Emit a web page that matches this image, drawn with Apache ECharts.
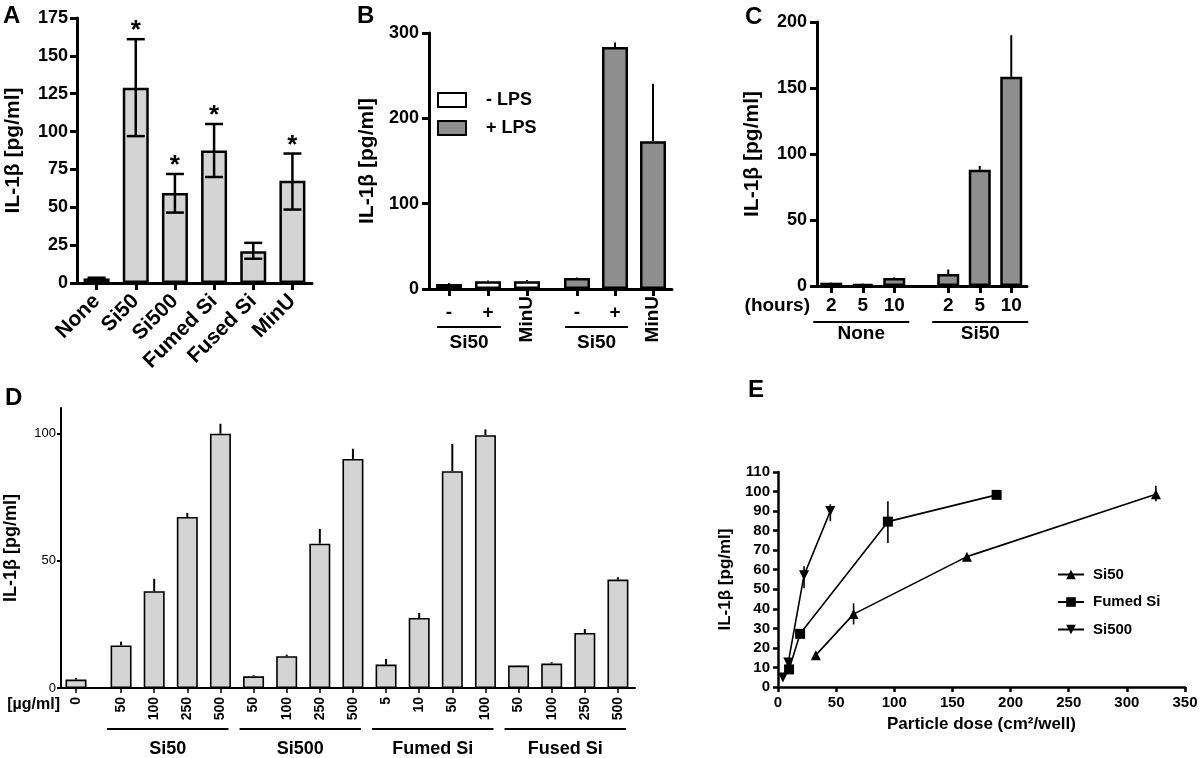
<!DOCTYPE html>
<html><head><meta charset="utf-8">
<script src="https://cdn.jsdelivr.net/npm/echarts@6/dist/echarts.min.js"></script>
<style>html,body{margin:0;padding:0;background:#fff}#c{width:1200px;height:758px}</style>
</head><body><div id="c"></div>
<script>
// ---------- DATA ----------
// Panel A
const catsA = ['None', 'Si50', 'Si500', 'Fumed Si', 'Fused Si', 'MinU'];
const valsA = [3, 129, 59.5, 87.5, 21, 67.5];
const errHiA = [3.5, 161, 72, 105, 26.5, 85.5];
const errLoA = [2.5, 97, 46.5, 70, 16, 48.5];
const starA = [0, 1, 1, 1, 0, 1];
// Panel B
const catsB = ['-', '+', 'MinU'];
const groupB = ['Si50', 'Si50'];
const legendB = ['- LPS', '+ LPS'];
const valsBminus = [6, 9, 9];
const errBminus = [7, 10, 10.5];
const valsBplus = [13, 283.5, 173];
const errBplus = [13.5, 289, 240.5];
// Panel C
const catsC = ['2', '5', '10'];
const groupC = ['None', 'Si50'];
const valsCnone = [2.5, 1.5, 6];
const errCnone = [2.8, 1.8, 6.5];
const valsCsi = [9, 88, 158.5];
const errCsi = [12.5, 91, 190];
// Panel D
const catsD0 = ['0'];
const valsD0 = [3.3];
const errD0 = [3.9];
const catsD = ['50', '100', '250', '500', '50', '100', '250', '500', '5', '10', '50', '100', '50', '100', '250', '500'];
const groupD = ['Si50', 'Si500', 'Fumed Si', 'Fused Si'];
const valsD = [16.7, 38, 67.2, 99.9, 4.6, 12.5, 56.7, 90, 9.2, 27.5, 85.2, 99.3, 8.8, 9.6, 21.6, 42.6];
const errD = [18.2, 42.9, 68.8, 103.8, 5, 13.1, 62.5, 94, 11.4, 29.5, 95.9, 101.6, 8.9, 10.1, 23.2, 43.5];
const ticksD = [0, 50, 100];
// Panel E
const namesE = ['Si50', 'Fumed Si', 'Si500'];
const doseE_Si50 = [32.5, 65, 162.5, 325];
const valE_Si50 = [16.3, 37.3, 66.7, 98.6];
const hiE_Si50 = [16.3, 42.8, 68, 103];
const loE_Si50 = [16.3, 32, 65.4, 95];
const doseE_Fumed = [9.5, 19, 94.5, 188];
const valE_Fumed = [9, 27.2, 84.6, 98.3];
const hiE_Fumed = [11, 28.8, 95, 99.5];
const loE_Fumed = [7.5, 26, 73.7, 97.2];
const doseE_Si500 = [4.2, 8.8, 22.4, 45];
const valE_Si500 = [4.8, 12.5, 57.2, 90];
const hiE_Si500 = [5.2, 14.5, 61.8, 93.5];
const loE_Si500 = [4.4, 10.5, 50.5, 84.8];

// ---------- BUILD ----------
const FONT = "'Liberation Sans', Arial, Helvetica, sans-serif";
const LIGHT = '#d4d4d4', DARK = '#8e8e8e';
const T = (size, weight) => ({ color: '#000', fontFamily: FONT, fontSize: size, fontWeight: weight || 'bold' });

const grid = [], xAxis = [], yAxis = [], series = [];
const addGrid = g => (grid.push(Object.assign({ containLabel: false, outerBoundsMode: 'none' }, g)), grid.length - 1);
const addX = a => (xAxis.push(a), xAxis.length - 1);
const addY = a => (yAxis.push(a), yAxis.length - 1);

function lineOnlyX(gi, w) {
  return addX({ type: 'value', gridIndex: gi, position: 'bottom', min: 0, max: 1,
    axisLine: { show: true, onZero: false, lineStyle: { color: '#000', width: w } },
    axisTick: { show: false }, axisLabel: { show: false }, splitLine: { show: false } });
}
function hiddenY(gi, min, max) {
  return addY({ type: 'value', gridIndex: gi, position: 'left', min, max, show: false, splitLine: { show: false } });
}
function visY(gi, min, max, interval, c) {
  const a = { type: 'value', gridIndex: gi, position: 'left', min, max, interval,
    axisLine: { show: true, onZero: false, lineStyle: { color: '#000', width: c.w } },
    axisTick: { show: true, length: c.tl, lineStyle: { color: '#000', width: c.w } },
    axisLabel: Object.assign({ margin: c.m, hideOverlap: false }, T(c.fs, c.fw)),
    splitLine: { show: false },
    name: c.name, nameLocation: 'middle', nameGap: c.ng, nameTextStyle: T(c.nfs, c.nfw) };
  if (c.custom) { a.axisTick.customValues = c.custom; a.axisLabel.customValues = c.custom; }
  return addY(a);
}
function catX(gi, data, c) {
  const a = { type: 'category', gridIndex: gi, position: 'bottom', data, boundaryGap: true,
    axisLine: { show: !!c.line, onZero: false, lineStyle: { color: '#000', width: c.w } },
    axisTick: { show: c.ticks !== false, alignWithLabel: true, length: c.tl, lineStyle: { color: '#000', width: c.w } },
    axisLabel: Object.assign({ interval: 0, margin: c.m, rotate: c.rot || 0, hideOverlap: false, show: c.labels !== false }, T(c.fs, c.fw)),
    splitLine: { show: false } };
  if (c.fmt) a.axisLabel.formatter = c.fmt;
  return addX(a);
}
function errRender(capW, lw) {
  return function (params, api) {
    const x = api.value(0), hi = api.value(1), lo = api.value(2);
    const p1 = api.coord([x, hi]), p2 = api.coord([x, lo]);
    const ch = [{ type: 'line', shape: { x1: p1[0], y1: p1[1], x2: p2[0], y2: p2[1] }, style: { stroke: '#000', lineWidth: lw } }];
    if (capW) {
      ch.push({ type: 'line', shape: { x1: p1[0] - capW / 2, y1: p1[1], x2: p1[0] + capW / 2, y2: p1[1] }, style: { stroke: '#000', lineWidth: lw } });
      ch.push({ type: 'line', shape: { x1: p2[0] - capW / 2, y1: p2[1], x2: p2[0] + capW / 2, y2: p2[1] }, style: { stroke: '#000', lineWidth: lw } });
    }
    return { type: 'group', children: ch };
  };
}
function errSeries(xi, yi, data, capW, lw) {
  return { type: 'custom', xAxisIndex: xi, yAxisIndex: yi, data, renderItem: errRender(capW, lw),
    encode: { x: 0, y: [1, 2] }, z: 5, clip: false, silent: true, animation: false };
}
function barSeries(name, xi, yi, data, bw, color, bwid) {
  return { type: 'bar', name, xAxisIndex: xi, yAxisIndex: yi, data, barWidth: bw, silent: true, animation: false,
    itemStyle: { color, borderColor: '#000', borderWidth: bwid } };
}

// ----- Panel A -----
const gA = addGrid({ left: 77, top: 18, width: 235, height: 265 });
const xA = catX(gA, catsA, { line: true, w: 3, tl: 7, m: 15, rot: 45, fs: 21 });
const yA = visY(gA, 0, 175, 25, { w: 3, tl: 7, m: 9, fs: 18, name: 'IL-1β [pg/ml]', ng: 53, nfs: 21 });
series.push(barSeries('A', xA, yA, valsA, 26, LIGHT, 2.5));
series.push(errSeries(xA, yA, valsA.map((v, i) => [i, errHiA[i], errLoA[i]]), 18, 2.5));
series.push({ type: 'custom', xAxisIndex: xA, yAxisIndex: yA, z: 6, clip: false, silent: true, animation: false,
  data: starA.map((s, i) => [i, errHiA[i], s]).filter(d => d[2]),
  encode: { x: 0, y: 1 },
  renderItem: (p, api) => {
    const c = api.coord([api.value(0), api.value(1)]);
    return { type: 'text', style: { text: '*', x: c[0], y: c[1] - 8, align: 'center', verticalAlign: 'middle',
      fontSize: 26, fontWeight: 'bold', fontFamily: FONT, fill: '#000' } };
  } });

// ----- Panel B -----
const gB = addGrid({ left: 429, top: 33, width: 243, height: 256 });
lineOnlyX(gB, 3);
visY(gB, 0, 300, 100, { w: 3, tl: 7, m: 10, fs: 18, name: 'IL-1β [pg/ml]', ng: 51, nfs: 21 });
const gB1 = addGrid({ left: 429.5, top: 33, width: 117, height: 256 });
const gB2 = addGrid({ left: 558, top: 33, width: 114, height: 256 });
const subB = [];
[gB1, gB2].forEach(gi => {
  const xi = catX(gi, catsB, { w: 3, tl: 7, m: 14, fs: 19, fmt: v => (v === 'MinU' ? '' : v) });
  catX(gi, catsB, { w: 3, ticks: false, m: 7, rot: 90, fs: 19, fmt: v => (v === 'MinU' ? v : '') });
  const yi = hiddenY(gi, 0, 300);
  subB.push([xi, yi]);
});
series.push(barSeries(legendB[0], subB[0][0], subB[0][1], valsBminus, 26, '#ffffff', 2.5));
series.push(errSeries(subB[0][0], subB[0][1], valsBminus.map((v, i) => [i, errBminus[i], v]), 0, 2));
series.push(barSeries(legendB[1], subB[1][0], subB[1][1], valsBplus, 26, DARK, 2.5));
series.push(errSeries(subB[1][0], subB[1][1], valsBplus.map((v, i) => [i, errBplus[i], v]), 0, 2));

// ----- Panel C -----
const gC = addGrid({ left: 817, top: 22, width: 210, height: 264 });
lineOnlyX(gC, 3);
visY(gC, 0, 200, 50, { w: 3, tl: 7, m: 10, fs: 18, name: 'IL-1β [pg/ml]', ng: 54, nfs: 21 });
const gC1 = addGrid({ left: 815.5, top: 22, width: 94.5, height: 264 });
const gC2 = addGrid({ left: 932.5, top: 22, width: 94.5, height: 264 });
const subC = [];
[gC1, gC2].forEach(gi => {
  const xi = catX(gi, catsC, { w: 3, tl: 7, m: 10, fs: 19 });
  const yi = hiddenY(gi, 0, 200);
  subC.push([xi, yi]);
});
series.push(barSeries('C1', subC[0][0], subC[0][1], valsCnone, 22, DARK, 2.5));
series.push(errSeries(subC[0][0], subC[0][1], valsCnone.map((v, i) => [i, errCnone[i], v]), 0, 2));
series.push(barSeries('C2', subC[1][0], subC[1][1], valsCsi, 22, DARK, 2.5));
series.push(errSeries(subC[1][0], subC[1][1], valsCsi.map((v, i) => [i, errCsi[i], v]), 0, 2));

// ----- Panel D -----
const gD = addGrid({ left: 61, top: 408, width: 574, height: 280 });
lineOnlyX(gD, 2);
visY(gD, 0, 110, 50, { w: 2, tl: 4, m: 5, fs: 13, fw: 'normal', custom: ticksD, name: 'IL-1β [pg/ml]', ng: 41, nfs: 18 });
const gD1 = addGrid({ left: 61, top: 408, width: 30, height: 280 });
const gD2 = addGrid({ left: 104.5, top: 408, width: 530, height: 280 });
const xD1 = catX(gD1, catsD0, { w: 1.5, tl: 5, m: 9, rot: 90, fs: 14 });
const yD1 = hiddenY(gD1, 0, 110);
const xD2 = catX(gD2, catsD, { w: 1.5, tl: 5, m: 9, rot: 90, fs: 14 });
const yD2 = hiddenY(gD2, 0, 110);
series.push(barSeries('D0', xD1, yD1, valsD0, 21, LIGHT, 1.6));
series.push(errSeries(xD1, yD1, valsD0.map((v, i) => [i, errD0[i], v]), 0, 2));
series.push(barSeries('D', xD2, yD2, valsD, 21, LIGHT, 1.6));
series.push(errSeries(xD2, yD2, valsD.map((v, i) => [i, errD[i], v]), 0, 2));

// ----- Panel E -----
const gE = addGrid({ left: 778, top: 472, width: 407, height: 215 });
const xE = addX({ type: 'value', gridIndex: gE, position: 'bottom', min: 0, max: 350, interval: 50,
  axisLine: { show: true, onZero: false, lineStyle: { color: '#000', width: 2.5 } },
  axisTick: { show: true, length: 5, lineStyle: { color: '#000', width: 2.5 } },
  axisLabel: Object.assign({ margin: 8, hideOverlap: false }, T(15)), splitLine: { show: false },
  name: 'Particle dose (cm²/well)', nameLocation: 'middle', nameGap: 29, nameTextStyle: T(17) });
const yE = visY(gE, 0, 110, 10, { w: 2.5, tl: 5, m: 8, fs: 15, name: 'IL-1β [pg/ml]', ng: 44, nfs: 17 });
const eSets = [
  [namesE[0], doseE_Si50, valE_Si50, hiE_Si50, loE_Si50, 'triangle', 0, 10],
  [namesE[1], doseE_Fumed, valE_Fumed, hiE_Fumed, loE_Fumed, 'rect', 0, 10],
  [namesE[2], doseE_Si500, valE_Si500, hiE_Si500, loE_Si500, 'triangle', 180, 10]
];
eSets.forEach(([name, xs, ys, hi, lo, sym, rot, sz]) => {
  series.push({ type: 'line', name, xAxisIndex: xE, yAxisIndex: yE, data: xs.map((x, i) => [x, ys[i]]),
    symbol: sym, symbolRotate: rot, symbolSize: sz, showAllSymbol: true, silent: true, animation: false,
    lineStyle: { color: '#000', width: 1.6 }, itemStyle: { color: '#000', borderWidth: 0 }, z: 4 });
  series.push(errSeries(xE, yE, xs.map((x, i) => [x, hi[i], lo[i]]), 0, 1.6));
});

const option = {
  backgroundColor: '#ffffff',
  animation: false,
  textStyle: { fontFamily: FONT },
  grid, xAxis, yAxis, series,
  legend: [
    { data: legendB, orient: 'vertical', left: 437, top: 91, itemWidth: 28, itemHeight: 14, itemGap: 10,
      icon: 'rect', padding: 0, selectedMode: false,
      formatter: n => '{t|' + n + '}',
      textStyle: Object.assign(T(18), { rich: { t: Object.assign({ padding: [0, 0, 0, 15] }, T(18)) } }) },
    { data: namesE, orient: 'vertical', left: 1057, top: 567, itemWidth: 26, itemHeight: 12, itemGap: 12.5,
      padding: 0, selectedMode: false,
      formatter: n => '{t|' + n + '}',
      textStyle: Object.assign(T(15), { rich: { t: Object.assign({ padding: [0, 0, 0, 4] }, T(15)) } }) }
  ]
};

const chart = echarts.init(document.getElementById('c'), null, { renderer: 'canvas', width: 1200, height: 758 });
chart.setOption(option);

// ---------- annotations derived from the axes ----------
const gfx = [];
const px = (gi, idx, val) => chart.convertToPixel({ gridIndex: gi }, [idx, val]);
function txt(text, x, y, size, align, valign, weight) {
  gfx.push({ type: 'text', silent: true, style: { text, x, y, align: align || 'left', verticalAlign: valign || 'top',
    fontSize: size, fontWeight: weight || 'bold', fontFamily: FONT, fill: '#000' } });
}
function groupLine(gi, i0, i1, dl, dr, yOff, lblOff, label, size) {
  const p0 = px(gi, i0, 0), p1 = px(gi, i1, 0);
  const x0 = p0[0] - dl, x1 = p1[0] + dr, y = p0[1] + yOff;
  gfx.push({ type: 'line', silent: true, shape: { x1: x0, y1: y, x2: x1, y2: y }, style: { stroke: '#000', lineWidth: 2 } });
  txt(label, (x0 + x1) / 2, p0[1] + lblOff, size, 'center', 'middle');
}
// B groups (under "-" and "+")
groupLine(gB1, 0, 1, 12, 13, 38, 54, groupB[0], 19);
groupLine(gB2, 0, 1, 12, 13, 38, 54, groupB[1], 19);
// C groups
groupLine(gC1, 0, 2, 18, 15, 36, 48, groupC[0], 19);
groupLine(gC2, 0, 2, 16, 17, 36, 48, groupC[1], 19);
// D groups
groupD.forEach((name, k) => groupLine(gD2, k * 4, k * 4 + 3, 14, 8, 41, 61, name, 18));
// axis side captions
const cOrig = px(gC, 0, 0);
txt('(hours)', cOrig[0] - 7, cOrig[1] + 20, 19, 'right', 'middle');
const dOrig = px(gD, 0, 0);
txt('[µg/ml]', dOrig[0] - 1, dOrig[1] + 17, 16, 'right', 'middle');
// panel letters
txt('A', 3, 4, 24); txt('B', 357, 4, 24); txt('C', 745, 5, 24); txt('D', 5, 386, 24); txt('E', 748, 378, 24);

chart.setOption({ graphic: gfx });
</script></body></html>
